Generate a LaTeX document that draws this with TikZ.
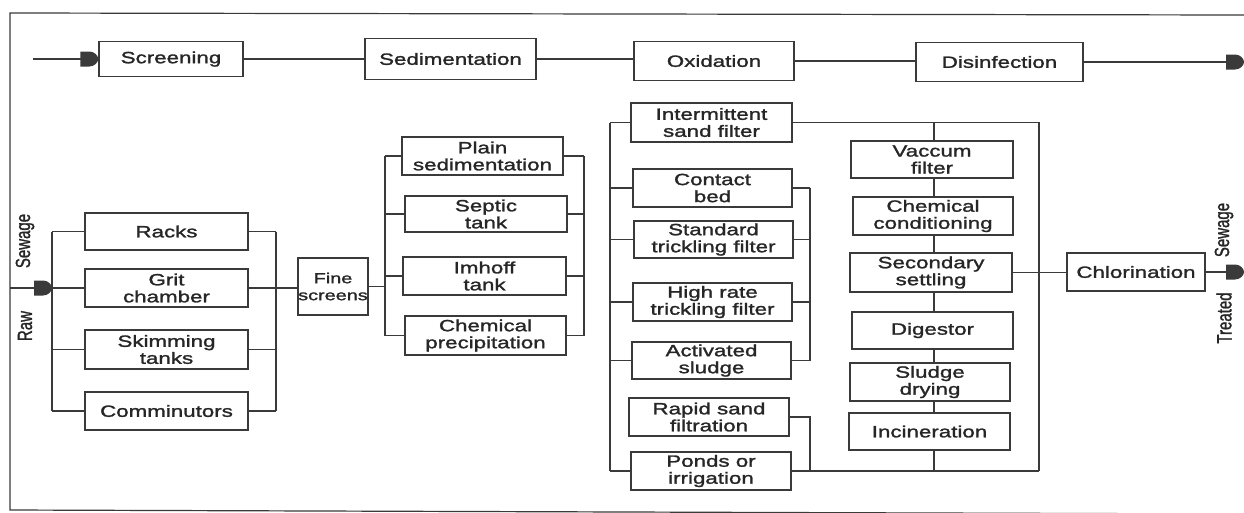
\documentclass[tikz,border=0pt]{standalone}
\usepackage{fontspec}
\usepackage{graphicx}
\setmainfont{Liberation Sans}[FakeStretch=1.37,FakeBold=1.5]
\newfontfamily\lblfont{Liberation Sans}[FakeBold=1.5]
\definecolor{ink}{HTML}{262626}
\definecolor{wire}{HTML}{3A3A3A}
\begin{document}
\begin{tikzpicture}[x=1pt,y=-1pt,
  bx/.style={draw=wire, line width=1.5pt, inner sep=0pt, align=center, text=ink,
             font=\fontsize{16.3}{17}\selectfont, minimum width=160pt, minimum height=38pt},
  conn/.style={draw=wire, line width=1.2pt},
  lbl/.style={text=ink, inner sep=0pt, rotate=90, font=\lblfont\fontsize{15}{15}\selectfont},
  tiphead/.pic={\fill[wire] (-18,-7.5) -- (-9,-7.5) .. controls (-4,-7.5) and (0,-3.5) .. (0,0)
                 .. controls (0,3.5) and (-4,7.5) .. (-9,7.5) -- (-18,7.5) -- cycle;}]
\useasboundingbox (0,0) rectangle (1244,512);
\fill[white] (0,0) rectangle (1244,512);
% frame
\draw[conn] (1244,15) -- (10,13) -- (10,510) -- (1244,514);

% top row
\node[bx, minimum width=144pt, minimum height=35pt] (scr) at (171,59) {Screening};
\node[bx, minimum width=171pt, minimum height=41pt] (sed) at (450.5,59) {Sedimentation};
\node[bx, minimum width=160pt, minimum height=39pt] (oxi) at (714,61) {Oxidation};
\node[bx, minimum width=167pt, minimum height=39pt] (dis) at (999.5,62) {Disinfection};
\coordinate (in1) at (33,59);
\coordinate (out1) at (1244,62);
\draw[conn] (in1) -- (in1 -| scr.west);
\pic at (scr.west) {tiphead};
\draw[conn] (scr.east) -- (scr.east -| sed.west);
\draw[conn] (sed.east) -- (sed.east -| oxi.west);
\draw[conn] (oxi.east) -- (oxi.east -| dis.west);
\draw[conn] (dis.east) -- (out1);
\pic at (out1) {tiphead};

% preliminary group
\node[bx, minimum width=163pt, minimum height=37pt] (racks) at (166.5,231.5) {Racks};
\node[bx, minimum width=163pt, minimum height=38pt] (grit) at (166.5,288) {Grit\\chamber};
\node[bx, minimum width=163pt, minimum height=39pt] (skim) at (166.5,349.5) {Skimming\\tanks};
\node[bx, minimum width=163pt, minimum height=38pt] (comm) at (166.5,411) {Comminutors};
\node[bx, minimum width=70pt, minimum height=57pt, font=\fontsize{14.5}{17}\selectfont] (fine) at (333,286.5) {Fine\\screens};
\coordinate (pl) at (52,0);
\coordinate (pr) at (276,0);
\coordinate (rawin) at (10,288);
\draw[conn] (racks.west -| pl) -- (comm.west -| pl);
\foreach \n in {racks,grit,skim,comm} \draw[conn] (\n.west) -- (\n.west -| pl);
\draw[conn] (racks.east -| pr) -- (comm.east -| pr);
\foreach \n in {racks,skim,comm} \draw[conn] (\n.east) -- (\n.east -| pr);
\draw[conn] (grit.east) -- (grit.east -| fine.west);
\draw[conn] (rawin) -- (rawin -| pl);
\pic at (rawin -| pl) {tiphead};
\node[lbl] (lsew) at (25,241) {\scalebox{1}[1.37]{Sewage}};
\node[lbl] (lraw) at (25,326) {\scalebox{1}[1.37]{Raw}};

% sedimentation group
\node[bx, minimum width=161pt, minimum height=38pt] (plain) at (482.5,156) {Plain\\sedimentation};
\node[bx, minimum width=162pt, minimum height=36pt] (septic) at (486,214) {Septic\\tank};
\node[bx, minimum width=163pt, minimum height=38pt] (imhoff) at (484.5,276) {Imhoff\\tank};
\node[bx, minimum width=161pt, minimum height=39pt] (chem) at (485.5,335.5) {Chemical\\precipitation};
\coordinate (sl) at (385,0);
\coordinate (sr) at (584,0);
\draw[conn] (plain.west -| sl) -- (chem.west -| sl);
\draw[conn] (plain.east -| sr) -- (chem.east -| sr);
\foreach \n in {plain,septic,imhoff,chem} {
  \draw[conn] (\n.west) -- (\n.west -| sl);
  \draw[conn] (\n.east) -- (\n.east -| sr);
}
\draw[conn] (fine.east) -- (fine.east -| sl);

% oxidation group
\node[bx, minimum width=161pt, minimum height=39pt] (inter) at (711.5,122.5) {Intermittent\\sand filter};
\node[bx, minimum width=159pt, minimum height=38pt] (contact) at (712.5,188) {Contact\\bed};
\node[bx, minimum width=159pt, minimum height=37pt] (std) at (713.5,239.5) {Standard\\trickling filter};
\node[bx, minimum width=159pt, minimum height=38pt] (high) at (712.5,302) {High rate\\trickling filter};
\node[bx, minimum width=159pt, minimum height=37pt] (act) at (711.5,360.5) {Activated\\sludge};
\node[bx, minimum width=160pt, minimum height=38pt] (rapid) at (709,417) {Rapid sand\\filtration};
\node[bx, minimum width=160pt, minimum height=38pt] (ponds) at (711,471) {Ponds or\\irrigation};
\coordinate (ol) at (610,0);
\coordinate (oi) at (810,0);
\coordinate (orr) at (1039,0);
\coordinate (ch) at (934,0);
\draw[conn] (inter.west -| ol) -- (ponds.west -| ol);
\foreach \n in {inter,contact,std,high,act,ponds} \draw[conn] (\n.west) -- (\n.west -| ol);
\draw[conn] (contact.east -| oi) -- (act.east -| oi);
\foreach \n in {contact,std,high,act} \draw[conn] (\n.east) -- (\n.east -| oi);
\draw[conn] (rapid.east) -- (rapid.east -| oi) -- (oi |- ponds.east);
\draw[conn] (ponds.east) -- (ponds.east -| orr);
\draw[conn] (inter.east) -- (inter.east -| orr) -- (orr |- ponds.east);

% sludge chain
\node[bx, minimum width=162pt, minimum height=37pt] (vac) at (932,159.5) {Vaccum\\filter};
\node[bx, minimum width=160pt, minimum height=38pt] (cc) at (933,216) {Chemical\\conditioning};
\node[bx, minimum width=162pt, minimum height=39pt] (sec) at (931,272.5) {Secondary\\settling};
\node[bx, minimum width=161pt, minimum height=37pt] (dig) at (932.5,330.5) {Digestor};
\node[bx, minimum width=160pt, minimum height=38pt] (sd) at (930,382) {Sludge\\drying};
\node[bx, minimum width=161pt, minimum height=37pt] (inc) at (929.5,431.5) {Incineration};
\draw[conn] (ch |- inter.east) -- (ch |- vac.north);
\draw[conn] (ch |- vac.south) -- (ch |- cc.north);
\draw[conn] (ch |- cc.south) -- (ch |- sec.north);
\draw[conn] (ch |- sec.south) -- (ch |- dig.north);
\draw[conn] (ch |- dig.south) -- (ch |- sd.north);
\draw[conn] (ch |- sd.south) -- (ch |- inc.north);
\draw[conn] (ch |- inc.south) -- (ch |- ponds.east);

% chlorination
\node[bx, minimum width=138pt, minimum height=38pt] (chl) at (1136,272) {Chlorination};
\coordinate (out2) at (1244,272);
\draw[conn] (sec.east) -- (sec.east -| chl.west);
\draw[conn] (chl.east) -- (out2);
\pic at (out2) {tiphead};
\node[lbl] (rsew) at (1224,230) {\scalebox{1}[1.37]{Sewage}};
\node[lbl] (rtre) at (1224,318) {\scalebox{1}[1.37]{Treated}};
\end{tikzpicture}
\end{document}
